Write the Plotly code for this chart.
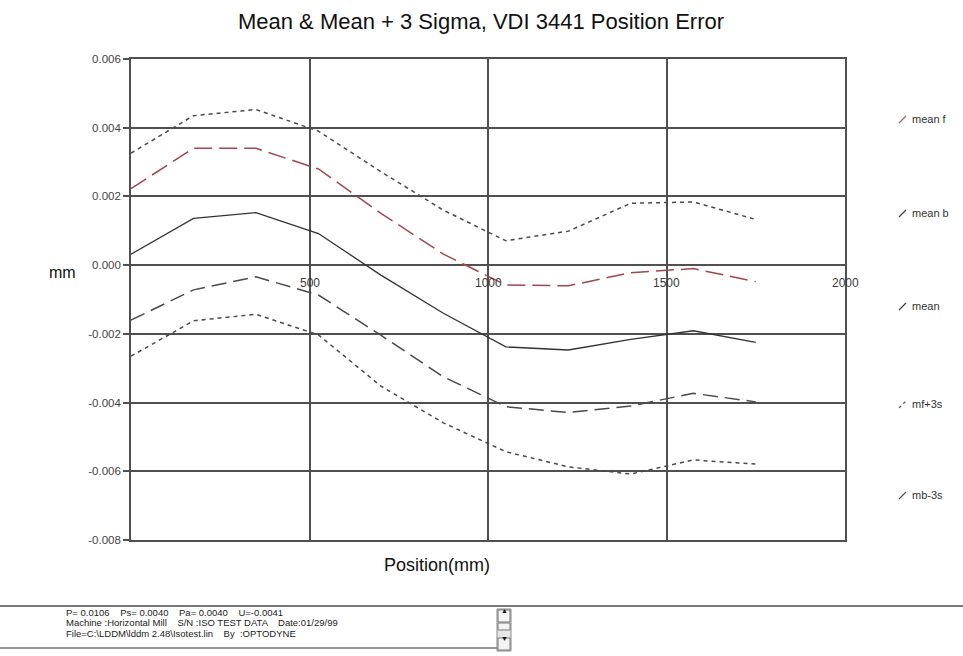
import plotly.graph_objects as go

# ---------------- data ----------------
position = [0, 175, 350, 525, 700, 875, 1050, 1225, 1400, 1575, 1750]

mean_f = [0.00223, 0.00340, 0.00340, 0.00280, 0.00151, 0.00032, -0.00058, -0.00060, -0.00022, -0.00010, -0.00048]
mean_b = [-0.00160, -0.00072, -0.00034, -0.00087, -0.00204, -0.00325, -0.00412, -0.00429, -0.00410, -0.00373, -0.00398]
mean = [0.00032, 0.00136, 0.00153, 0.00092, -0.00029, -0.00140, -0.00238, -0.00247, -0.00216, -0.00191, -0.00225]
mf_3s = [0.00326, 0.00435, 0.00453, 0.00390, 0.00272, 0.00160, 0.00071, 0.00099, 0.00180, 0.00184, 0.00133]
mb_3s = [-0.00265, -0.00162, -0.00143, -0.00203, -0.00352, -0.00459, -0.00543, -0.00587, -0.00608, -0.00567, -0.00579]

x_ticks = [500, 1000, 1500, 2000]
x_tick_labels = ["500", "1000", "1500", "2000"]
y_ticks = [0.006, 0.004, 0.002, 0.0, -0.002, -0.004, -0.006, -0.008]
y_tick_labels = ["0.006", "0.004", "0.002", "0.000", "-0.002", "-0.004", "-0.006", "-0.008"]

legend_names = ["mean f", "mean b", "mean", "mf+3s", "mb-3s"]

info_lines = [
    "P= 0.0106    Ps= 0.0040    Pa= 0.0040    U=-0.0041",
    "Machine :Horizontal Mill    S/N :ISO TEST DATA    Date:01/29/99",
    "File=C:\\LDDM\\lddm 2.48\\Isotest.lin    By  :OPTODYNE",
]

# ---------------- styles ----------------
W, H = 963, 656
L, R, T, B = 131, 845, 59, 540
GRID = "#505050"
FONT = "Liberation Sans, Arial, sans-serif"

series = [
    (mean_f, "mean f", dict(color="#a3464f", width=1.5, dash="18px,7px")),
    (mean_b, "mean b", dict(color="#4a4a4a", width=1.5, dash="15px,7px")),
    (mean, "mean", dict(color="#333333", width=1.3)),
    (mf_3s, "mf+3s", dict(color="#4a4a4a", width=1.5, dash="4px,4px")),
    (mb_3s, "mb-3s", dict(color="#4a4a4a", width=1.5, dash="4px,4px")),
]


def px(xp):
    return (xp - L) / (R - L)


def py(yp):
    return (B - yp) / (B - T)


fig = go.Figure()
for ys, name, line in series:
    fig.add_trace(go.Scatter(x=position, y=ys, mode="lines", name=name, line=line,
                             showlegend=False, hoverinfo="x+y+name"))

annotations = []
shapes = []

# x tick labels drawn along the zero line
for xv, lab in zip(x_ticks, x_tick_labels):
    annotations.append(dict(x=xv, y=0, xref="x", yref="y", text=lab, showarrow=False,
                            yshift=-18, font=dict(size=12, color="#3a3a3a", family=FONT)))

# custom legend
legend_y = [119, 213, 306, 404, 495]
legend_colors = ["#b0606a", "#444444", "#444444", "#555555", "#555555"]
legend_dash = ["solid", "solid", "solid", "dot", "solid"]
for i, name in enumerate(legend_names):
    yc = legend_y[i]
    shapes.append(dict(type="line", xref="paper", yref="paper",
                       x0=px(899), y0=py(yc + 4), x1=px(906), y1=py(yc - 3),
                       line=dict(color=legend_colors[i], width=1.2, dash=legend_dash[i])))
    annotations.append(dict(x=px(910), y=py(yc), xref="paper", yref="paper", text=name,
                            showarrow=False, xanchor="left", yanchor="middle",
                            font=dict(size=11, color="#333333", family=FONT)))

# axis titles
annotations.append(dict(x=px(47), y=py(272), xref="paper", yref="paper", text="mm",
                        showarrow=False, font=dict(size=16, color="#111111", family=FONT)))
annotations.append(dict(x=px(437), y=py(577), xref="paper", yref="paper", text="Position(mm)",
                        showarrow=False, font=dict(size=18, color="#111111", family=FONT)))

# info panel at bottom
shapes.append(dict(type="line", xref="paper", yref="paper", x0=px(0), x1=px(963),
                   y0=py(606), y1=py(606), line=dict(color="#777777", width=2)))
shapes.append(dict(type="line", xref="paper", yref="paper", x0=px(0), x1=px(497),
                   y0=py(648), y1=py(648), line=dict(color="#999999", width=2)))
for i, t in enumerate(info_lines):
    annotations.append(dict(x=px(64), y=py(612 + i * 10.5), xref="paper", yref="paper", text=t,
                            showarrow=False, xanchor="left", yanchor="middle",
                            font=dict(size=9.5, color="#222222", family=FONT)))
# scrollbar
shapes.append(dict(type="rect", xref="paper", yref="paper", x0=px(497), x1=px(511),
                   y0=py(609), y1=py(651), line=dict(color="#888888", width=1), fillcolor="#e6e6e6"))
for (y0, y1) in [(610, 622), (638, 650)]:
    shapes.append(dict(type="rect", xref="paper", yref="paper", x0=px(498), x1=px(510),
                       y0=py(y0), y1=py(y1), line=dict(color="#777777", width=1), fillcolor="#f4f4f4"))
shapes.append(dict(type="rect", xref="paper", yref="paper", x0=px(498), x1=px(510),
                   y0=py(623), y1=py(630), line=dict(color="#777777", width=1), fillcolor="#f4f4f4"))
annotations.append(dict(x=px(504), y=py(616), xref="paper", yref="paper", text="▲", showarrow=False,
                        font=dict(size=7, color="#111111", family=FONT)))
annotations.append(dict(x=px(504), y=py(644), xref="paper", yref="paper", text="▼", showarrow=False,
                        font=dict(size=7, color="#111111", family=FONT)))

fig.update_layout(
    width=W, height=H,
    margin=dict(l=L, r=W - R, t=T, b=H - B),
    paper_bgcolor="white", plot_bgcolor="white",
    title=dict(text="Mean & Mean + 3 Sigma, VDI 3441 Position Error", x=481 / W, xanchor="center",
               y=1 - 21 / H, yanchor="middle", font=dict(size=22, color="#111111", family=FONT)),
    xaxis=dict(range=[0, 2000], tickvals=x_ticks, showticklabels=False, showgrid=True,
               gridcolor=GRID, gridwidth=1.6, zeroline=False, showline=True, mirror=True,
               linecolor=GRID, linewidth=1.6, ticks=""),
    yaxis=dict(range=[-0.008, 0.006], tickvals=y_ticks, ticktext=y_tick_labels, showgrid=True,
               gridcolor=GRID, gridwidth=1.6, zeroline=False, showline=True, mirror=True,
               linecolor=GRID, linewidth=1.6, ticks="outside", ticklen=6, tickcolor=GRID,
               tickwidth=1.5, tickfont=dict(size=11.5, color="#444444", family=FONT)),
    annotations=annotations, shapes=shapes,
    font=dict(family=FONT),
)

fig.write_html("out.html")
